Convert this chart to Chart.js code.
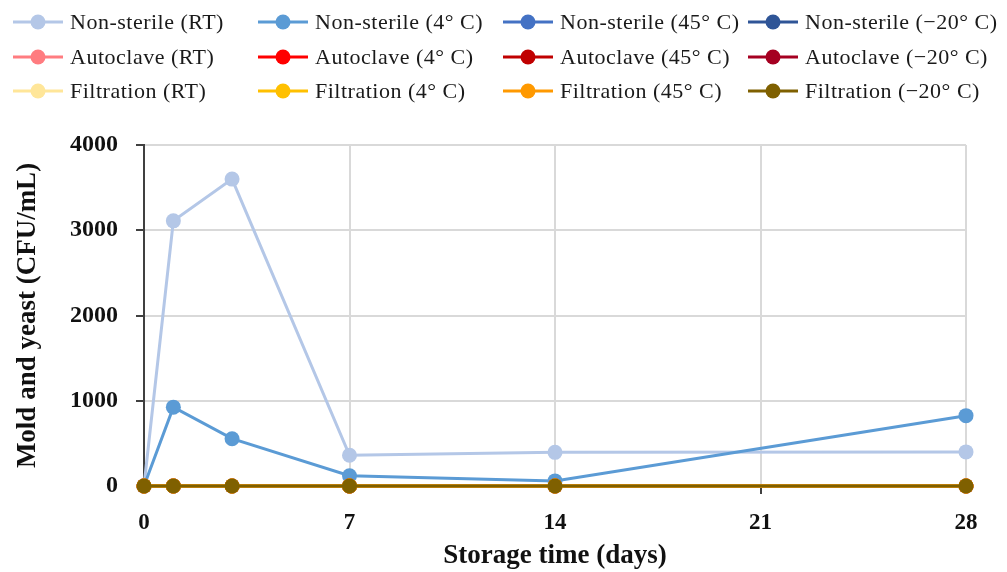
<!DOCTYPE html>
<html lang="en">
<head>
    <meta charset="UTF-8">
    <title>Mold and yeast vs storage time</title>
    <script src="https://cdn.jsdelivr.net/npm/chart.js"></script>
    <style>
        html, body {
            margin: 0;
            padding: 0;
            background: #fff;
        }
        .wrap {
            position: relative;
            width: 1007px;
            height: 572px;
        }
    </style>
</head>
<body>
    <div class="wrap">
        <canvas id="moldChart" width="1007" height="572"></canvas>
    </div>

    <script>
        // storage days where samples were taken
        const days = [0, 1, 3, 7, 14, 28];

        const seriesNames = [
            'Non-sterile (RT)', 'Non-sterile (4° C)', 'Non-sterile (45° C)', 'Non-sterile (−20° C)',
            'Autoclave (RT)', 'Autoclave (4° C)', 'Autoclave (45° C)', 'Autoclave (−20° C)',
            'Filtration (RT)', 'Filtration (4° C)', 'Filtration (45° C)', 'Filtration (−20° C)'
        ];

        const nonSterileRT = [0, 3110, 3600, 360, 395, 400];
        const nonSterile4 = [0, 925, 555, 120, 60, 825];
        const nonSterile45 = [0, 0, 0, 0, 0, 0];
        const nonSterileMinus20 = [0, 0, 0, 0, 0, 0];
        const autoclaveRT = [0, 0, 0, 0, 0, 0];
        const autoclave4 = [0, 0, 0, 0, 0, 0];
        const autoclave45 = [0, 0, 0, 0, 0, 0];
        const autoclaveMinus20 = [0, 0, 0, 0, 0, 0];
        const filtrationRT = [0, 0, 0, 0, 0, 0];
        const filtration4 = [0, 0, 0, 0, 0, 0];
        const filtration45 = [0, 0, 0, 0, 0, 0];
        const filtrationMinus20 = [0, 0, 0, 0, 0, 0];

        const xTicks = [0, 7, 14, 21, 28];
        const yTicks = [0, 1000, 2000, 3000, 4000];

        const allValues = [
            nonSterileRT, nonSterile4, nonSterile45, nonSterileMinus20,
            autoclaveRT, autoclave4, autoclave45, autoclaveMinus20,
            filtrationRT, filtration4, filtration45, filtrationMinus20
        ];

        const cores = [
            '#B4C7E7', '#5B9BD5', '#4472C4', '#2F5597',
            '#FF7C80', '#FF0000', '#C00000', '#A50021',
            '#FFE699', '#FFC000', '#FF9900', '#7F6000'
        ];

        const serif = "'Liberation Serif', 'DejaVu Serif', serif";

        // legend in a fixed 4 x 3 grid, like the original
        const gridLegend = {
            id: 'gridLegend',
            afterDraw(chart) {
                const ctx = chart.ctx;
                const colX = [13, 258, 503, 748];
                const rowY = [22, 57, 91];
                ctx.save();
                ctx.font = '22px ' + serif;
                ctx.letterSpacing = '0.5px';
                ctx.textBaseline = 'middle';
                chart.data.datasets.forEach((ds, i) => {
                    const x = colX[i % 4];
                    const y = rowY[Math.floor(i / 4)];
                    ctx.strokeStyle = ds.borderColor;
                    ctx.lineWidth = 3;
                    ctx.beginPath();
                    ctx.moveTo(x, y);
                    ctx.lineTo(x + 50, y);
                    ctx.stroke();
                    ctx.fillStyle = ds.borderColor;
                    ctx.beginPath();
                    ctx.arc(x + 25, y, 7.5, 0, Math.PI * 2);
                    ctx.fill();
                    ctx.fillStyle = '#1a1a1a';
                    ctx.fillText(ds.label, x + 57, y + 1);
                });
                ctx.restore();
            }
        };

        const datasets = seriesNames.map((nome, i) => ({
            label: nome,
            data: days.map((d, j) => ({ x: d, y: allValues[i][j] })),
            borderColor: cores[i],
            backgroundColor: cores[i],
            borderWidth: 3,
            pointRadius: 7.5,
            pointHoverRadius: 7.5,
            pointBorderWidth: 0,
            tension: 0,
            clip: false,
            order: seriesNames.length - i
        }));

        const ctx = document.getElementById('moldChart').getContext('2d');
        new Chart(ctx, {
            type: 'line',
            data: { datasets: datasets },
            options: {
                responsive: false,
                animation: false,
                layout: {
                    padding: { top: 145, right: 41, left: 0, bottom: 0 }
                },
                plugins: {
                    legend: { display: false },
                    tooltip: { enabled: false }
                },
                scales: {
                    x: {
                        type: 'linear',
                        min: 0,
                        max: 28,
                        afterBuildTicks: scale => {
                            scale.ticks = xTicks.map(v => ({ value: v }));
                        },
                        afterFit: scale => { scale.height = 86; },
                        grid: {
                            color: '#D9D9D9',
                            lineWidth: 2,
                            tickColor: '#404040',
                            tickLength: 8
                        },
                        border: { color: '#404040', width: 2 },
                        ticks: {
                            color: '#111',
                            padding: 15,
                            font: { family: serif, size: 23, weight: 'bold' }
                        },
                        title: {
                            display: true,
                            text: 'Storage time (days)',
                            color: '#111',
                            padding: { top: 4, bottom: 0 },
                            font: { family: serif, size: 27, weight: 'bold' }
                        }
                    },
                    y: {
                        min: 0,
                        max: 4000,
                        afterBuildTicks: scale => {
                            scale.ticks = yTicks.map(v => ({ value: v }));
                        },
                        afterFit: scale => { scale.width = 144; },
                        grid: {
                            color: '#D9D9D9',
                            lineWidth: 2,
                            tickColor: '#404040',
                            tickLength: 8
                        },
                        border: { color: '#404040', width: 2 },
                        ticks: {
                            color: '#111',
                            padding: 18,
                            callback: v => String(v),
                            font: { family: serif, size: 24, weight: 'bold' }
                        },
                        title: {
                            display: true,
                            text: 'Mold and yeast (CFU/mL)',
                            color: '#111',
                            padding: { top: 12, bottom: 8 },
                            font: { family: serif, size: 27, weight: 'bold' }
                        }
                    }
                }
            },
            plugins: [gridLegend]
        });
    </script>
</body>
</html>
